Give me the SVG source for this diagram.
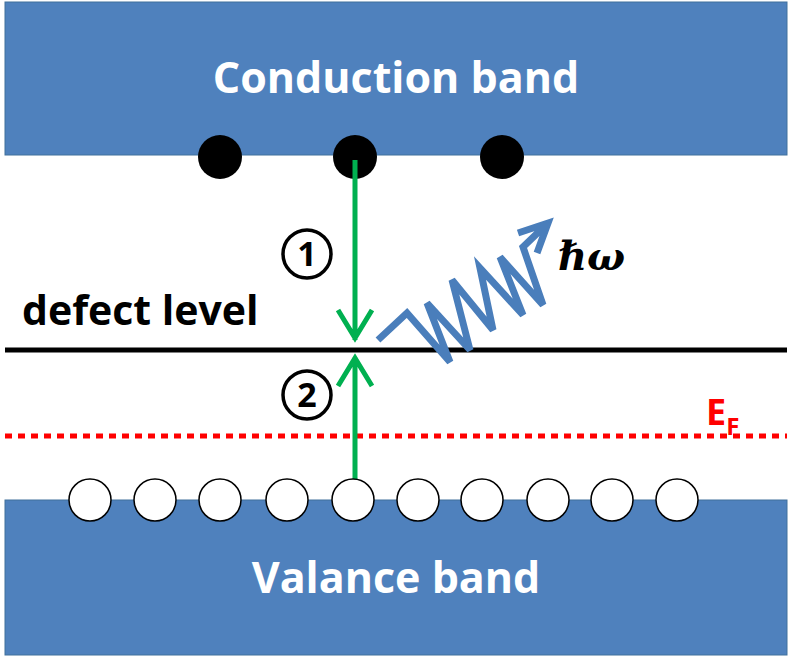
<svg xmlns="http://www.w3.org/2000/svg" width="795" height="660" viewBox="0 0 795 660">
<style>
.band{fill:#4f81bd;stroke:#41719c;stroke-width:1}
.bt{font-family:"Open Sans","Liberation Sans",sans-serif;font-weight:bold;font-size:43px;fill:#fff;text-anchor:middle}
.e{fill:#000}
.h{fill:#fff;stroke:#000;stroke-width:1.5}
.g{stroke:#00b050;stroke-width:5;fill:none}
.c{fill:none;stroke:#000;stroke-width:3.5}
.n{font-family:"Open Sans","Liberation Sans",sans-serif;font-weight:bold;font-size:34px;fill:#000;text-anchor:middle}
</style>
<rect width="795" height="660" fill="#fff"/>
<g id="conduction"><rect class="band" x="5" y="2" width="782" height="153"/><text class="bt" x="396" y="93">Conduction band</text></g>
<g id="valence"><rect class="band" x="5" y="500" width="782" height="155"/><text class="bt" x="396" y="593">Valance band</text></g>
<g id="defect"><line x1="5" y1="350" x2="787" y2="350" stroke="#000" stroke-width="5"/><text x="22" y="325" font-family="Open Sans,Liberation Sans,sans-serif" font-weight="bold" font-size="41" fill="#000">defect level</text></g>
<g id="fermi"><line x1="5" y1="436" x2="787" y2="436" stroke="#ff0000" stroke-width="5" stroke-dasharray="7,6"/><text x="706" y="425" font-family="Open Sans,Liberation Sans,sans-serif" font-weight="bold" font-size="36" fill="#ff0000">E<tspan font-size="24" dy="10">F</tspan></text></g>
<g id="electrons"><circle class="e" cx="220" cy="157" r="22"/><circle class="e" cx="355" cy="157" r="22"/><circle class="e" cx="502" cy="157" r="22"/></g>
<g id="connectors">
<path class="g" d="M355 160V340M338 310L355 338L372 310"/>
<path class="g" d="M355 500V357M338 386L355 358L372 386"/>
<path d="M378 340L407 313L450 362L427 303L470 350L452 280L493 330L480 268L523 315L500 257L543 305L523 247L548 223M518 233L548 223L537 253" fill="none" stroke="#4a7ebb" stroke-width="7" stroke-linejoin="miter"/>
</g>
<g id="holes"><circle class="h" cx="90" cy="500" r="21"/><circle class="h" cx="155" cy="500" r="21"/><circle class="h" cx="220" cy="500" r="21"/><circle class="h" cx="287" cy="500" r="21"/><circle class="h" cx="353" cy="500" r="21"/><circle class="h" cx="418" cy="500" r="21"/><circle class="h" cx="482" cy="500" r="21"/><circle class="h" cx="548" cy="500" r="21"/><circle class="h" cx="612" cy="500" r="21"/><circle class="h" cx="677" cy="500" r="21"/></g>
<g id="labels"><circle class="c" cx="307" cy="254" r="24"/><text class="n" x="307" y="266">1</text>
<circle class="c" cx="307" cy="395" r="24"/><text class="n" x="307" y="407">2</text>
<text x="558" y="270" font-family="DejaVu Serif,serif" font-weight="bold" font-style="italic" font-size="40" fill="#000">ℏω</text></g>
</svg>
